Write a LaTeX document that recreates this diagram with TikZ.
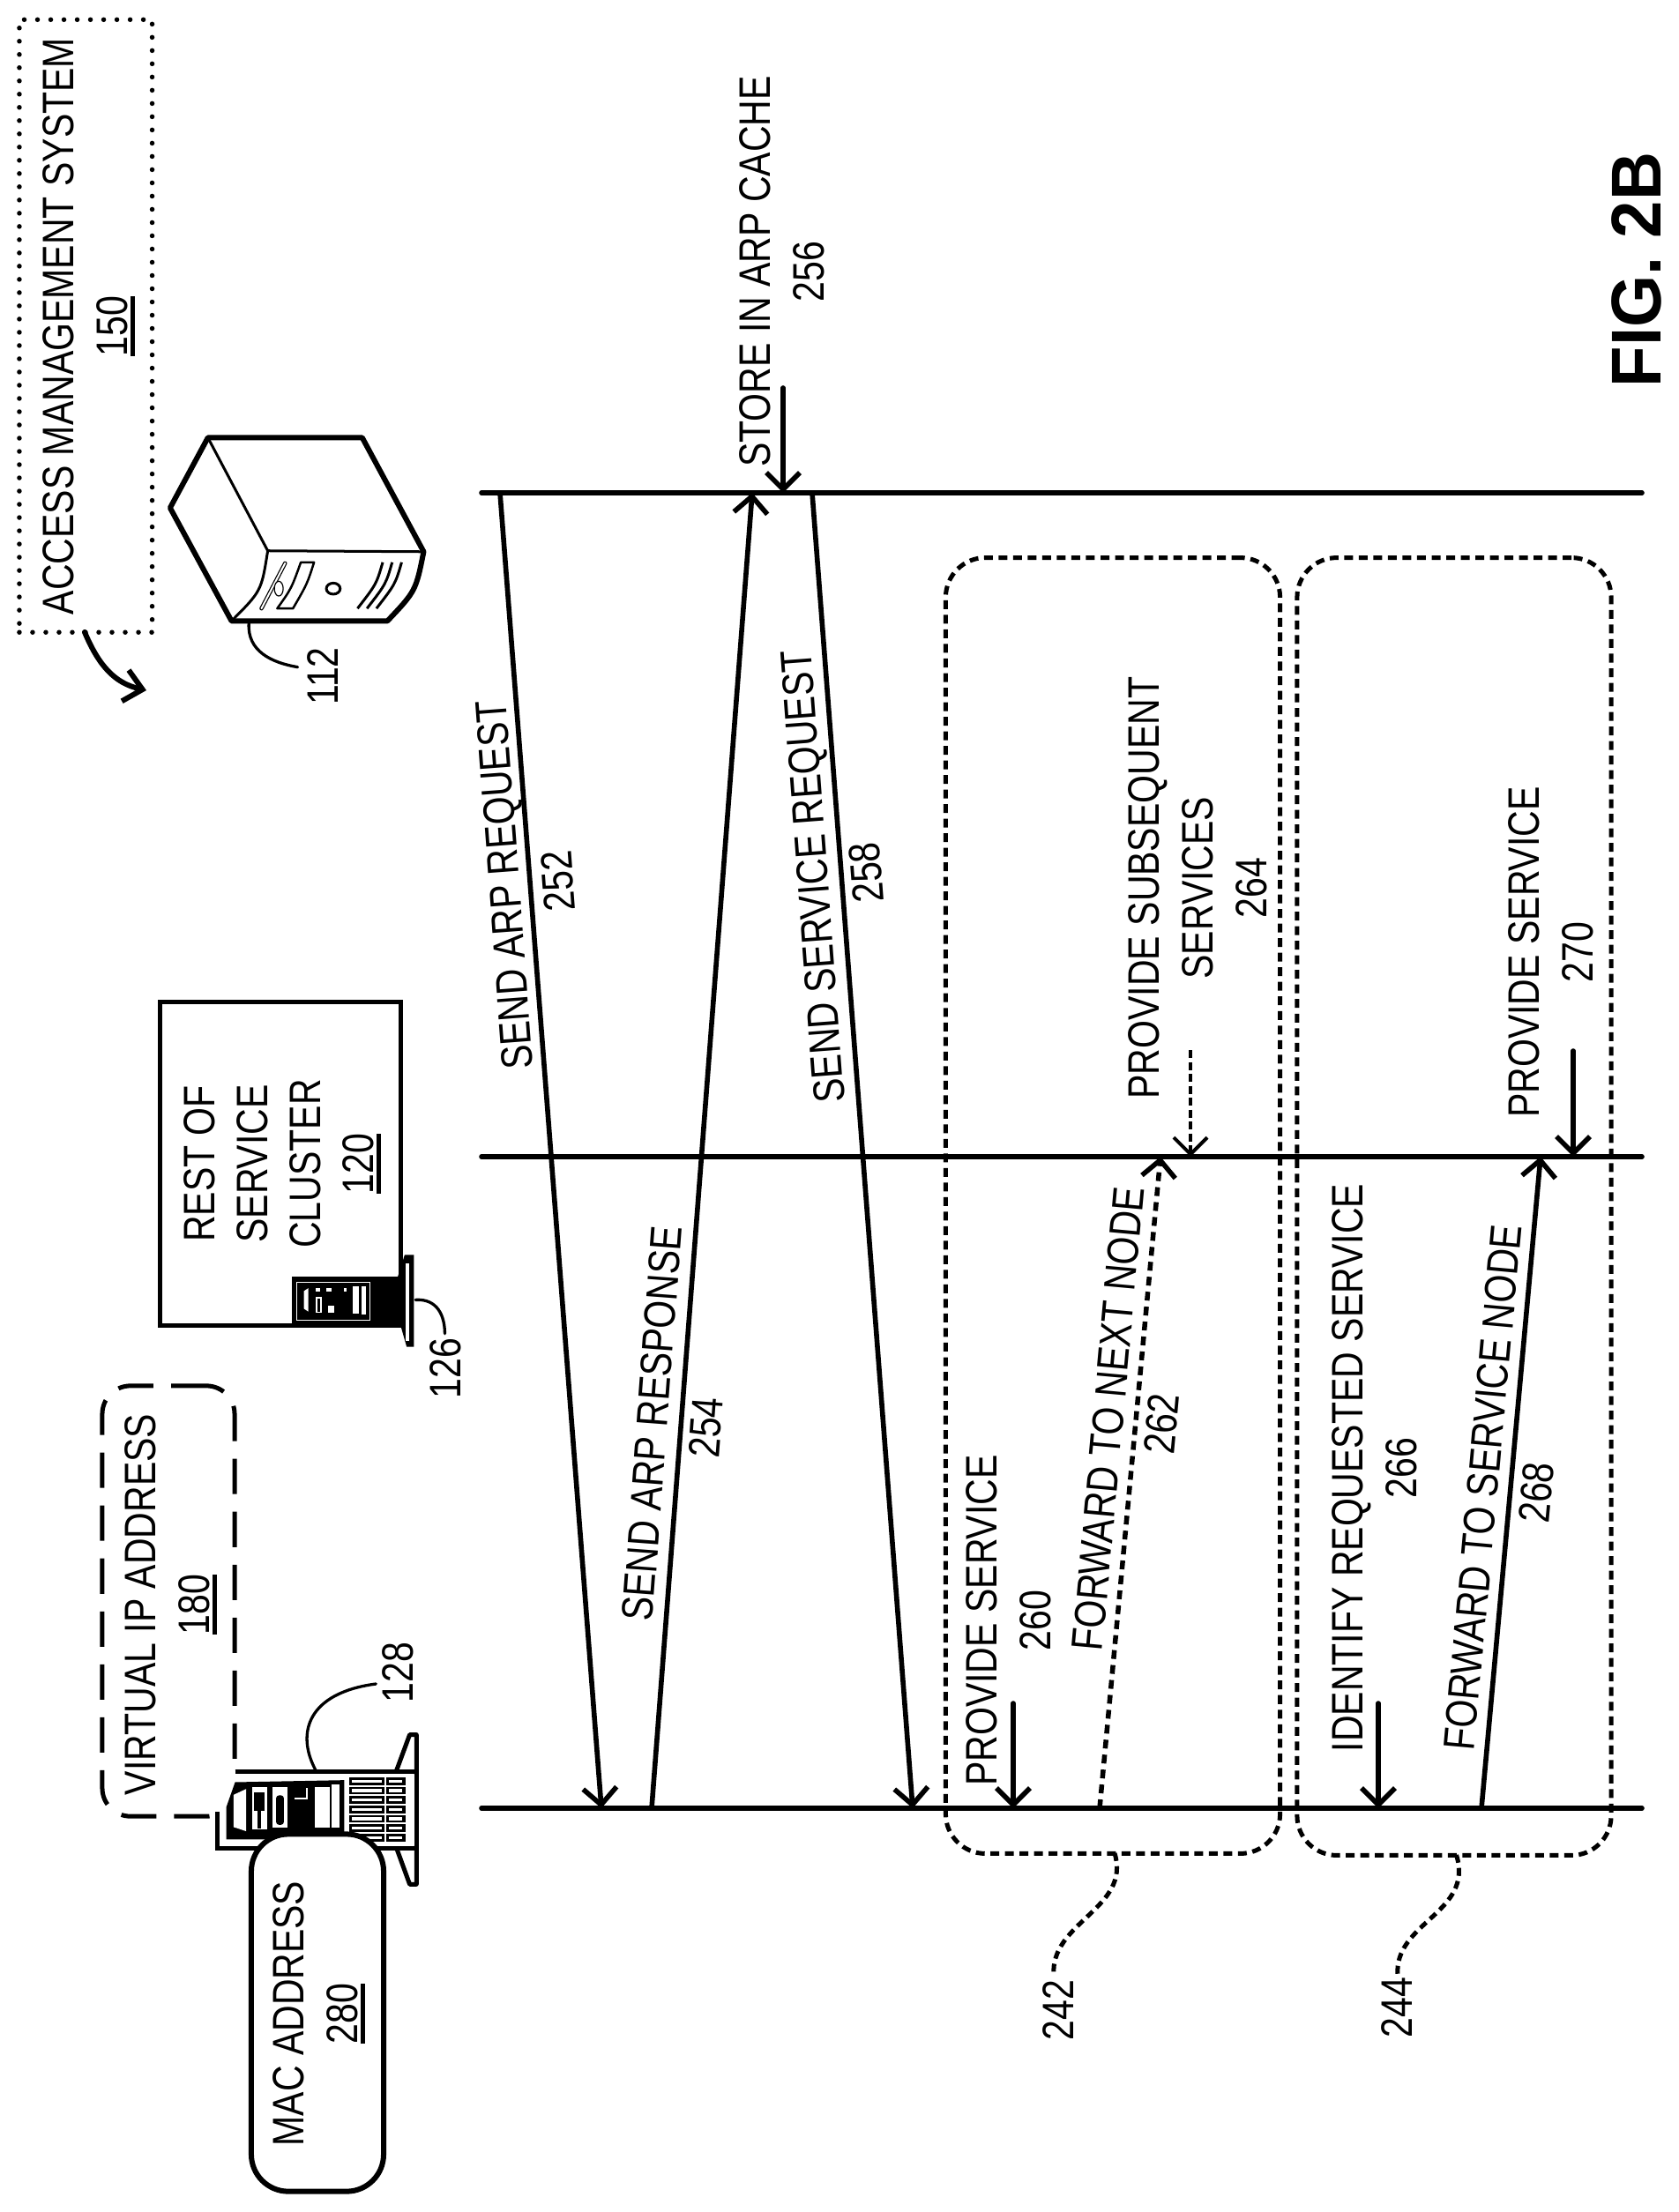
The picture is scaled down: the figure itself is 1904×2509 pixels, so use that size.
\documentclass[tikz,border=0pt]{standalone}
\usepackage{fontspec}
\usepackage{amsmath}
\setmainfont[FakeStretch=0.82]{Liberation Sans}
\newfontfamily\figfont[FakeStretch=0.95]{Liberation Sans}
\usetikzlibrary{arrows.meta}
\newcommand{\ulnum}[1]{\setbox0\hbox{#1}\leavevmode\rlap{\raisebox{-0.085cm}[0pt][0pt]{\rule{\wd0}{0.05cm}}}\box0}
\tikzset{
  lab/.style={font=\fontsize{0.5cm}{0.61cm}\selectfont, align=center, inner sep=0pt, rotate=90},
  heavy/.style={line width=0.056cm, line cap=round, line join=round},
  thin line/.style={line width=0.033cm, line cap=round},
  msg/.style={heavy, -{Straight Barb[length=0.19cm,width=0.38cm]}},
  dmsg/.style={line width=0.055cm, dash pattern=on 0.1cm off 0.07cm, -{Straight Barb[length=0.19cm,width=0.38cm]}},
  dmsgb/.style={line width=0.04cm, dash pattern=on 0.09cm off 0.045cm, -{Straight Barb[length=0.19cm,width=0.38cm]}},
  groupbox/.style={draw, line width=0.05cm, rounded corners=0.45cm, dash pattern=on 0.1cm off 0.065cm, inner sep=0pt},
  leader/.style={line width=0.05cm, dash pattern=on 0.09cm off 0.06cm},
}
\begin{document}
\begin{tikzpicture}[x=0.01cm,y=-0.01cm]
\useasboundingbox (0,0) rectangle (1904,2509);
% coordinates
\coordinate (t1a) at (546,559); \coordinate (t1b) at (1862,559);
\coordinate (t2a) at (546,1312); \coordinate (t2b) at (1862,1312);
\coordinate (t3a) at (546,2051); \coordinate (t3b) at (1862,2051);
\draw[heavy] (t1a) -- (t1b);
\draw[heavy] (t2a) -- (t2b);
\draw[heavy] (t3a) -- (t3b);
% message arrows
\coordinate (a252s) at (567,559); \coordinate (a252e) at (682,2051);
\coordinate (a254s) at (739,2051); \coordinate (a254e) at (853,559);
\coordinate (a258s) at (921,559); \coordinate (a258e) at (1035,2051);
\coordinate (a256s) at (888,440); \coordinate (a256e) at (888,559);
\coordinate (a260s) at (1149,1932); \coordinate (a260e) at (1149,2051);
\coordinate (a262s) at (1247,2051); \coordinate (a262e) at (1316,1312);
\coordinate (a264s) at (1350,1191); \coordinate (a264e) at (1350,1312);
\coordinate (a266s) at (1563,1932); \coordinate (a266e) at (1563,2051);
\coordinate (a268s) at (1680,2051); \coordinate (a268e) at (1747,1312);
\coordinate (a270s) at (1784,1192); \coordinate (a270e) at (1784,1312);
\draw[msg] (a252s) -- (a252e);
\draw[msg] (a254s) -- (a254e);
\draw[msg] (a258s) -- (a258e);
\draw[msg] (a256s) -- (a256e);
\draw[msg] (a260s) -- (a260e);
\draw[dmsg] (a262s) -- (a262e);
\draw[dmsgb] (a264s) -- (a264e);
\draw[msg] (a266s) -- (a266e);
\draw[msg] (a268s) -- (a268e);
\draw[msg] (a270s) -- (a270e);
% group boxes
\node[groupbox, minimum width=3.79cm, minimum height=14.69cm] (g242) at (1262,1367.5) {};
\node[groupbox, minimum width=3.56cm, minimum height=14.71cm] (g244) at (1649,1368.5) {};
\coordinate (l242) at (1195,2241); \coordinate (l244) at (1585,2241);
\draw[leader] (1264,2102) .. controls (1283,2165) and (1190,2180) .. (l242);
\draw[leader] (1651.5,2104) .. controls (1672,2170) and (1580,2180) .. (l244);
\node[lab] (n242) at (1200,2280) {242};
\node[lab] (n244) at (1584,2277) {244};
% labels
\node[lab, rotate=4.3] (m252) at (602.5,1001.5) {SEND ARP REQUEST\\252};
\node[lab, rotate=-4.3] (m254) at (770,1617) {SEND ARP RESPONSE\\254};
\node[lab, rotate=4.3] (m258) at (952,992) {SEND SERVICE REQUEST\\258};
\node[lab] (m256) at (886.5,308) {STORE IN ARP CACHE\\256};
\node[lab] (m260) at (1143.5,1838) {PROVIDE SERVICE\\260};
\node[lab, rotate=-5.2] (m262) at (1287,1612) {FORWARD TO NEXT NODE\\262};
\node[lab] (m264) at (1358.5,1007) {PROVIDE SUBSEQUENT\\SERVICES\\264};
\node[lab] (m266) at (1559,1665) {IDENTIFY REQUESTED SERVICE\\266};
\node[lab, rotate=-5.2] (m268) at (1712,1690) {FORWARD TO SERVICE NODE\\268};
\node[lab] (m270) at (1759,1080) {PROVIDE SERVICE\\270};
\node[rotate=90, inner sep=0pt, font=\figfont\bfseries\fontsize{0.8cm}{1cm}\selectfont] (fig) at (1856,306) {FIG. 2B};
% access management system
\node[draw, line width=0.055cm, dash pattern=on 0cm off 0.15cm, line cap=round, inner sep=0pt, minimum width=1.505cm, minimum height=6.945cm] (ams) at (97.25,369.75) {};
\node[lab] (amst) at (96.5,370) {ACCESS MANAGEMENT SYSTEM\\\ulnum{150}};
\coordinate (c1) at (96,717); \coordinate (c2) at (166,783);
\draw[line width=0.06cm, line cap=round, -{Straight Barb[length=0.2cm,width=0.36cm]}] (c1) .. controls (112,755) and (130,775) .. (c2);
% server 112
\begin{scope}[shift={(0,0)},x=0.003571cm,y=-0.005236cm]
\coordinate (sA) at (540,1100); \coordinate (sB) at (660,948); \coordinate (sC) at (1150,948);
\coordinate (sD) at (1345,1195); \coordinate (sE) at (1230,1345); \coordinate (sF) at (735,1345); \coordinate (sG) at (850,1193);
\draw[line width=0.06cm, line join=round, fill=white] (sA) -- (sB) -- (sC) -- (sD) .. controls (1320,1280) .. (sE) -- (sF) -- cycle;
\draw[line width=0.03cm] (sB) -- (sG) -- (sD);
\draw[line width=0.03cm] (sG) .. controls (830,1280) .. (sF);
\draw[line width=0.045cm, line cap=round] (905,1220) -- (830,1318);
\draw[line width=0.02cm, white, line cap=round] (905,1220) -- (830,1318);
\draw[line width=0.012cm, fill=white] (885,1275) ellipse (14 and 16);
\draw[line width=0.025cm, line join=round] (955,1218) -- (997,1218) .. controls (975,1265) .. (930,1318) -- (880,1318) .. controls (925,1275) .. cycle;
\draw[line width=0.03cm] (1058,1275) ellipse (22 and 12);
\draw[line width=0.03cm] (1215,1218) .. controls (1195,1265) .. (1135,1318);
\draw[line width=0.03cm] (1245,1218) .. controls (1225,1265) .. (1165,1318);
\draw[line width=0.03cm] (1275,1218) .. controls (1255,1265) .. (1195,1318);
\coordinate (l112a) at (790,1350); \coordinate (l112b) at (945,1445);
\draw[thin line] (l112a) .. controls (785,1410) and (860,1435) .. (l112b);
\end{scope}
\node[lab] (n112) at (366,767) {112};
% rest of service cluster
\node[draw, line width=0.05cm, fill=white, inner sep=0pt, minimum width=2.72cm, minimum height=3.66cm] (rsc) at (318,1320) {};
\node[lab, font=\fontsize{0.5cm}{0.6cm}\selectfont] (rsct) at (316.5,1320) {REST OF\\SERVICE\\CLUSTER\\\ulnum{120}};
\begin{scope}[shift={(150,1100)},x=0.003333cm,y=-0.003333cm]
\fill (545,1045) rectangle (905,1215);
\fill[line join=round] (905,1045) -- (928,972) -- (960,972) -- (960,1285) -- (935,1285) -- (915,1215) -- (905,1215) -- cycle;
\draw[white, line width=0.012cm] (560,1065) rectangle (810,1195);
\fill[white] (585,1095) -- (600,1085) -- (600,1165) -- (585,1155) -- cycle;
\fill[white] (625,1115) rectangle (645,1170);
\fill[white] (668,1145) rectangle (688,1170);
\fill[white] (750,1080) rectangle (772,1172);
\fill[white] (782,1080) rectangle (795,1175);
\fill[white] (625,1085) rectangle (640,1098);
\fill[white] (660,1085) rectangle (678,1098);
\fill[white] (722,1085) rectangle (730,1098);
\fill (632,1120) rectangle (640,1165);
\fill[white] (930,1000) rectangle (942,1265);
\coordinate (l126a) at (965,1125); \coordinate (l126b) at (1065,1240);
\draw[thin line] (l126a) .. controls (1040,1120) and (1065,1180) .. (l126b);
\end{scope}
\node[lab] (n126) at (505,1552) {126};
% virtual IP
\node[draw, line width=0.05cm, rounded corners=0.32cm, dash pattern=on 0.4cm off 0.2cm, inner sep=0pt, minimum width=1.5cm, minimum height=4.88cm] (vip) at (191,1816) {};
\node[lab] (vipt) at (189.5,1820) {VIRTUAL IP ADDRESS\\\ulnum{180}};
% server 128
\begin{scope}[shift={(220,1900)},x=0.003333cm,y=-0.003333cm]
\fill[white] (80,330) rectangle (750,590);
\draw[line width=0.05cm, line join=round] (140,330) -- (750,330) (80,465) -- (80,590) -- (750,590);
\draw[line width=0.05cm, line join=round, fill=white] (690,325) -- (735,203) -- (758,203) -- (758,713) -- (735,713) -- (692,595);
\fill[white] (690,340) rectangle (750,580);
\draw[line width=0.05cm] (140,330) -- (750,330);
\draw[line width=0.05cm] (200,590) -- (750,590);
\draw[line width=0.05cm] (80,470) -- (80,590) -- (200,590);
\fill (110,450) -- (140,365) -- (512,358) -- (512,560) -- (110,560) -- cycle;
\fill[white] (135,408) -- (178,388) -- (178,532) -- (135,518) -- cycle;
\fill[white] (198,382) rectangle (248,525);
\fill[white] (268,382) rectangle (318,520);
\fill[white] (412,382) rectangle (462,520);
\fill[white] (470,372) rectangle (497,520);
\fill (205,400) rectangle (240,462);
\fill (217,460) rectangle (229,522);
\fill[rounded corners=0.03cm] (280,410) rectangle (306,510);
\fill[white] (343,418) rectangle (387,423);
\fill[white] (382,385) rectangle (387,423);
\foreach \yy in {362,394,426,458,490,522,555} {
  \fill (528,\yy-13) rectangle (648,\yy+13);
  \fill (655,\yy-13) rectangle (720,\yy+13);
  \fill[white] (537,\yy-5) rectangle (640,\yy+5);
  \fill[white] (665,\yy-5) rectangle (710,\yy+5);
}
\coordinate (l128a) at (415,325); \coordinate (l128b) at (620,30);
\draw[thin line] (l128a) .. controls (345,195) and (390,60) .. (l128b);
\end{scope}
\node[lab] (n128) at (451,1897) {128};
% MAC
\node[draw, fill=white, line width=0.06cm, rounded corners=0.42cm, inner sep=0pt, minimum width=1.5cm, minimum height=4.05cm] (mac) at (360,2283) {};
\node[lab] (mact) at (357.5,2284) {MAC ADDRESS\\\ulnum{280}};
\end{tikzpicture}
\end{document}
